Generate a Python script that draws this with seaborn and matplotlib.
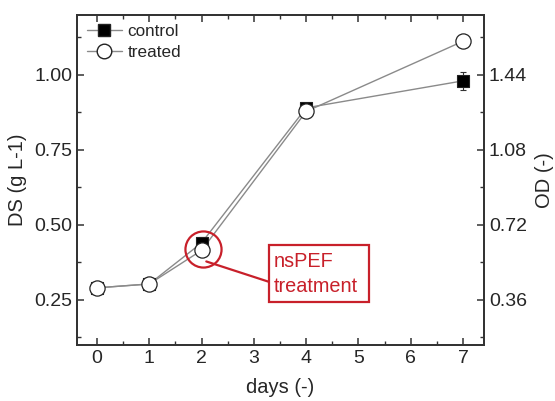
import matplotlib
matplotlib.use("Agg")
import matplotlib.pyplot as plt
import seaborn as sns
import pandas as pd
from matplotlib.lines import Line2D
from matplotlib.patches import Rectangle
from matplotlib.ticker import MultipleLocator, FixedLocator

# Measured dry substance (g/L) over days, control vs. nsPEF-treated
days = [0, 1, 2, 4, 7]
ds_control = [0.290, 0.303, 0.440, 0.890, 0.980]
err_control = [0.008, 0.008, 0.020, 0.010, 0.030]
ds_treated = [0.290, 0.303, 0.415, 0.878, 1.112]
err_treated = [0.008, 0.008, 0.012, 0.010, 0.008]
series = ["control", "treated"]
od_factor = 1.44
od_ticks = [0.36, 0.72, 1.08, 1.44]
treatment_day = 2
callout_text = "nsPEF\ntreatment"

sns.set_style("ticks")
plt.rcParams["font.family"] = ["Liberation Sans", "DejaVu Sans"]

df = pd.DataFrame({
    "day": days * 2,
    "DS": ds_control + ds_treated,
    "err": err_control + err_treated,
    "group": [series[0]] * len(days) + [series[1]] * len(days),
})

fig = plt.figure(figsize=(5.55, 4.01), dpi=100)
ax = fig.add_axes([0.139, 0.140, 0.733, 0.823])

line_col = "#8a8a8a"
edge = "#222222"
sns.lineplot(data=df, x="day", y="DS", hue="group", palette=[line_col, line_col],
             lw=1.0, legend=False, ax=ax, zorder=2)

sub_c = df[df.group == "control"]
sub_t = df[df.group == "treated"]
ax.errorbar(sub_c.day, sub_c.DS, yerr=sub_c.err, fmt="none", ecolor="#333333",
            elinewidth=0.8, capsize=2.5, capthick=0.8, zorder=3)
ax.errorbar(sub_t.day, sub_t.DS, yerr=sub_t.err, fmt="none", ecolor="#444444",
            elinewidth=0.7, capsize=2.2, capthick=0.7, zorder=3)
sns.scatterplot(x=sub_c.day, y=sub_c.DS, marker="s", s=85, color="black",
                edgecolor=edge, linewidth=0.8, ax=ax, zorder=4)
sns.scatterplot(x=sub_t.day, y=sub_t.DS, marker="o", s=120, color="white",
                edgecolor=edge, linewidth=0.9, ax=ax, zorder=5)

tick_fs = 14
label_fs = 14.5
ax.set_xlim(-0.38, 7.4)
ax.set_ylim(0.1, 1.2)
ax.set_xticks(range(0, 8))
ax.xaxis.set_minor_locator(MultipleLocator(0.5))
ax.set_yticks([0.25, 0.50, 0.75, 1.00])
ax.set_yticklabels(["0.25", "0.50", "0.75", "1.00"])
ax.yaxis.set_minor_locator(MultipleLocator(0.125))
ax.set_xlabel("days (-)", fontsize=label_fs, labelpad=8)
ax.set_ylabel("DS (g L-1)", fontsize=label_fs, labelpad=5)

spine_col = "#333333"
for s in ax.spines.values():
    s.set_visible(True)
    s.set_color(spine_col)
    s.set_linewidth(1.3)
ax.tick_params(which="both", direction="in", top=True, right=False,
               color=spine_col, labelsize=tick_fs)
ax.tick_params(which="major", length=5, width=1.1)
ax.tick_params(which="minor", length=3, width=1.0)

ax2 = ax.twinx()
ax2.set_ylim(0.1 * od_factor, 1.2 * od_factor)
ax2.yaxis.set_major_locator(FixedLocator(od_ticks))
ax2.set_yticklabels([f"{v:.2f}" for v in od_ticks])
ax2.yaxis.set_minor_locator(MultipleLocator(0.18))
ax2.set_ylabel("OD (-)", fontsize=label_fs, labelpad=6)
for s in ax2.spines.values():
    s.set_color(spine_col)
    s.set_linewidth(1.3)
ax2.tick_params(which="both", direction="in", color=spine_col, labelsize=tick_fs)
ax2.tick_params(which="major", length=5, width=1.1)
ax2.tick_params(which="minor", length=3, width=1.0)

handles = [
    Line2D([], [], color=line_col, lw=1.0, marker="s", ms=9, mfc="black", mec=edge),
    Line2D([], [], color=line_col, lw=1.0, marker="o", ms=10.5, mfc="white", mec=edge),
]
ax.legend(handles, series, loc="upper left", frameon=False, fontsize=12.3,
          handlelength=2.1, handletextpad=0.3, labelspacing=0.35,
          borderaxespad=0.25, borderpad=0.3)

# nsPEF treatment callout: ring around the treatment day, leader line, boxed label
red = "#c8202a"
ring_y = 0.42
ax.plot([treatment_day + 0.02], [ring_y], marker="o", ms=26, mfc="none",
        mec=red, mew=1.6, zorder=7, ls="none")
ax.plot([treatment_day + 0.09, 3.29], [0.378, 0.310], color=red, lw=1.6, zorder=7)
ax.add_patch(Rectangle((3.29, 0.243), 1.91, 0.191, fill=True, facecolor="white",
                       edgecolor=red, lw=1.6, zorder=7))
ax.text(3.38, 0.336, callout_text, color=red, fontsize=14.3, va="center",
        ha="left", linespacing=1.35, zorder=8)

fig.savefig("out.png", dpi=100)
